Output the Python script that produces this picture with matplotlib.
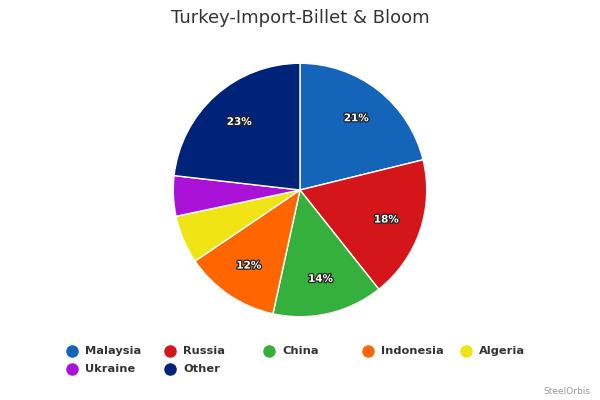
import matplotlib
matplotlib.use("Agg")
import matplotlib.pyplot as plt
import matplotlib.patheffects as pe
from matplotlib.lines import Line2D

categories = ["Malaysia", "Russia", "China", "Indonesia", "Algeria", "Ukraine", "Other"]
values = [21, 18, 14, 12, 6.1, 5.1, 23]
shown_labels = ["21%", "18%", "14%", "12%", "", "", "23%"]
colors = ["#1464b9", "#d4161a", "#36b03c", "#ff6600", "#f0e414", "#aa12d8", "#00237a"]

fig = plt.figure(figsize=(6, 4), dpi=100)
fig.patch.set_facecolor("white")

ax = fig.add_axes([172/600, (400-318)/400, 256/600, 256/400])
wedges, texts = ax.pie(values, colors=colors, startangle=90, counterclock=False,
                       radius=1.0, labels=shown_labels, labeldistance=0.72,
                       wedgeprops=dict(edgecolor="white", linewidth=1.0),
                       textprops=dict(color="white", fontsize=7.5, fontweight="bold"))
for t in texts:
    t.set_ha("center")
    t.set_va("center")
    t.set_path_effects([pe.withStroke(linewidth=1.8, foreground="#222222")])
ax.set_xlim(-1.01, 1.01)
ax.set_ylim(-1.01, 1.01)
ax.set_aspect("equal")
ax.axis("off")

fig.text(0.5, 1 - 18/400, "Turkey-Import-Billet & Bloom", ha="center", va="center",
         fontsize=13, color="#333333")

# legend
col_x = [72, 170, 269, 368, 466]
row_y = [351, 369]
for i, name in enumerate(categories):
    r, c = divmod(i, 5)
    x = col_x[c]
    y = row_y[r]
    fig.add_artist(Line2D([x/600], [1 - y/400], marker="o", markersize=8,
                          color=colors[i], linestyle="none", transform=fig.transFigure))
    fig.text((x + 13)/600, 1 - y/400, name, ha="left", va="center",
             fontsize=8.2, fontweight="bold", color="#333333")

fig.text(590/600, 1 - 392/400, "SteelOrbis", ha="right", va="center",
         fontsize=6.5, color="#999999")

fig.savefig("out.png", dpi=100)
